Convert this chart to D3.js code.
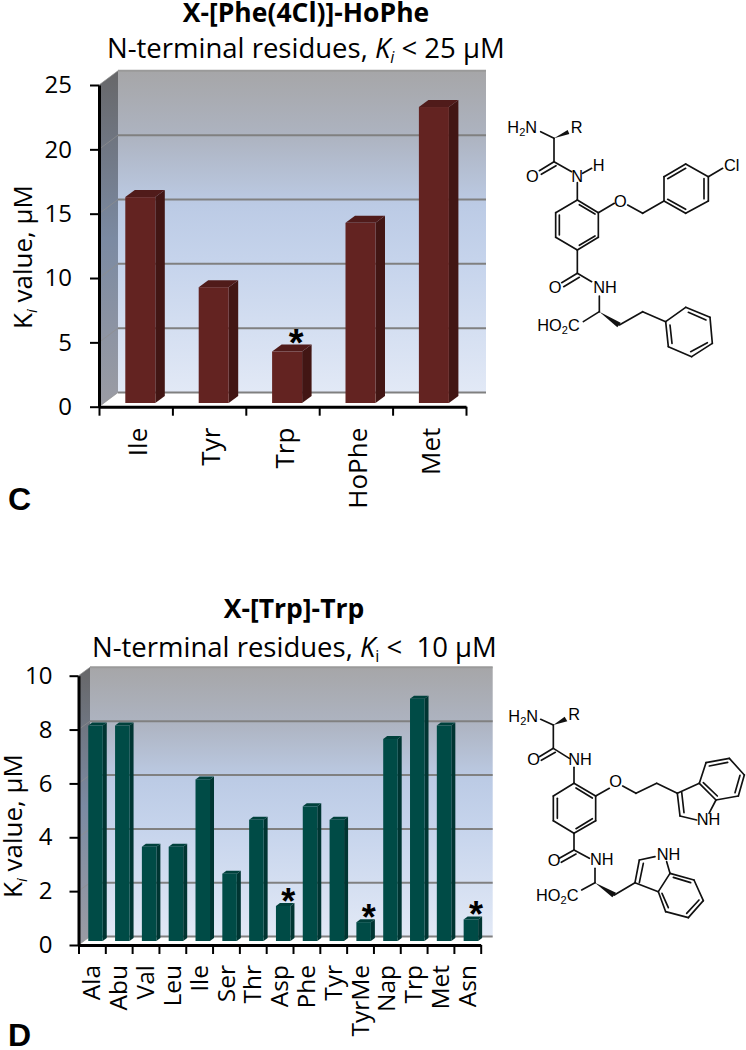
<!DOCTYPE html>
<html>
<head>
<meta charset="utf-8">
<script src="https://cdn.jsdelivr.net/npm/d3@7"></script>
<style>
  body { margin: 0; background: #fff; }
  text { font-family: "Open Sans", sans-serif; fill: #000; }
</style>
</head>
<body>
<div id="container"></div>
<script>
/* DATA */
const residuesC = ["Ile", "Tyr", "Trp", "HoPhe", "Met"];
const valuesC = [16, 9, 4, 14, 23];
const starredC = ["Trp"];
const ticksC = [0, 5, 10, 15, 20, 25];

const residuesD = ["Ala", "Abu", "Val", "Leu", "Ile", "Ser", "Thr", "Asp", "Phe", "Tyr", "TyrMe", "Nap", "Trp", "Met", "Asn"];
const valuesD = [8, 8, 3.5, 3.5, 6, 2.5, 4.5, 1.3, 5, 4.5, 0.7, 7.5, 9, 8, 0.8];
const starredD = ["Asp", "TyrMe", "Asn"];
const ticksD = [0, 2, 4, 6, 8, 10];

const svg = d3.select("#container").append("svg")
  .attr("width", 746)
  .attr("height", 1050);

/* GRADIENTS */
const defs = svg.append("defs");
function gradient(id, stops) {
  const g = defs.append("linearGradient").attr("id", id)
    .attr("x1", 0).attr("y1", 0).attr("x2", 0).attr("y2", 1);
  stops.forEach(s => g.append("stop").attr("offset", s[0]).attr("stop-color", s[1]));
}
gradient("wall", [[0, "#a6a6a8"], [0.2, "#adb3c0"], [0.42, "#bccbe5"], [0.6, "#c6d4ec"], [1, "#e2e9f6"]]);
gradient("side", [[0, "#676769"], [0.2, "#6f7580"], [0.5, "#7b8aa2"], [1, "#9b9ca4"]]);

/* one 3D column panel */
function drawPanel(p) {
  const y = d3.scaleLinear().domain(p.domain).range([p.y0, p.y1]);
  const x = d3.scaleBand().domain(p.residues).range([p.x0, p.x1]);
  const edges = d3.scaleLinear().domain([0, p.residues.length]).range([p.x0, p.x1]);
  const g = svg.append("g");

  // back wall, side wall, floor
  const wallL = p.x0 + p.dx, wallR = p.wallRight;
  const top = y(p.domain[1]) - p.dy, bottom = y(0) - p.dy;
  g.append("rect").attr("x", wallL).attr("y", top)
    .attr("width", wallR - wallL).attr("height", bottom - top)
    .attr("fill", "url(#wall)");
  g.append("path")
    .attr("d", `M${p.x0},${y(p.domain[1])}L${wallL},${top}L${wallL},${bottom}L${p.x0},${y(0)}Z`)
    .attr("fill", "url(#side)");

  // gridlines
  g.selectAll(".grid").data(p.ticks).join("line")
    .attr("class", "grid")
    .attr("x1", wallL).attr("x2", wallR)
    .attr("y1", d => y(d) - p.dy).attr("y2", d => y(d) - p.dy)
    .attr("stroke", d => d === p.domain[1] ? "#9a9a9a" : "#808080")
    .attr("stroke-width", 2);
  g.selectAll(".gridSide").data(p.ticks).join("line")
    .attr("class", "gridSide")
    .attr("x1", p.x0).attr("x2", wallL)
    .attr("y1", d => y(d)).attr("y2", d => y(d) - p.dy)
    .attr("stroke", "#8f8f8f")
    .attr("stroke-width", 1)
    .attr("opacity", 0.7);

  // columns
  const w = p.barWidth, d1 = p.barDepthX, d2 = p.barDepthY;
  const bx = r => x(r) + x.bandwidth() / 2 + p.barShift - w / 2;
  const by = v => y(v) - p.barLift;
  const bars = g.selectAll(".bar")
    .data(p.residues.map((r, i) => ({ r: r, v: p.values[i] })))
    .join("g").attr("class", "bar");
  bars.append("path")
    .attr("d", d => `M${bx(d.r) + w},${by(d.v)}l${d1},${-d2}V${by(0) - d2}l${-d1},${d2}Z`)
    .attr("fill", p.colors[2]);
  bars.append("path")
    .attr("d", d => `M${bx(d.r)},${by(d.v)}l${d1},${-d2}h${w}l${-d1},${d2}Z`)
    .attr("fill", p.colors[1]);
  bars.append("rect")
    .attr("x", d => bx(d.r)).attr("y", d => by(d.v))
    .attr("width", w).attr("height", d => by(0) - by(d.v))
    .attr("fill", p.colors[0]);

  // asterisks
  bars.filter(d => p.starred.includes(d.r)).append("text")
    .attr("x", d => bx(d.r) + w / 2 + p.starDx)
    .attr("y", d => by(d.v) + p.starDy)
    .attr("text-anchor", "middle")
    .style("font-family", "'Liberation Sans'")
    .style("font-weight", "bold")
    .style("font-size", p.starSize + "px")
    .text("*");

  // axes
  const yAxis = d3.axisLeft(y).tickValues(p.ticks).tickSize(p.tick).tickPadding(p.tickPad).tickSizeOuter(0);
  const yG = g.append("g").attr("transform", `translate(${p.x0},0)`).call(yAxis);
  const xTicks = d3.axisBottom(edges).ticks(p.residues.length).tickFormat("").tickSize(p.tick).tickSizeOuter(0);
  const xG = g.append("g").attr("transform", `translate(0,${p.y0})`).call(xTicks);
  [yG, xG].forEach(a => {
    a.selectAll("path,line").attr("stroke", "#000").attr("stroke-width", 2);
    a.select(".domain").attr("stroke-width", p.axisWidth);
  });
  yG.selectAll("text").style("font-family", "'Open Sans'").style("font-size", p.yFont + "px").attr("fill", "#000");

  // category labels
  const xAxis = d3.axisBottom(x).tickSize(0).tickSizeOuter(0);
  const lab = g.append("g").attr("transform", `translate(0,${p.y0})`).call(xAxis);
  lab.select(".domain").remove();
  lab.selectAll("text")
    .attr("transform", `translate(${p.labelDx},${p.labelTop}) rotate(-90)`)
    .attr("x", 0).attr("y", 0).attr("dy", "0.35em")
    .attr("text-anchor", "end")
    .style("font-family", "'Open Sans'")
    .style("font-size", p.xFont + "px");

  // y title
  const yt = g.append("text")
    .attr("transform", `translate(${p.yTitleX},${p.yTitleY}) rotate(-90)`)
    .attr("text-anchor", "middle")
    .style("font-size", p.yTitleFont + "px");
  yt.append("tspan").text("K");
  yt.append("tspan").attr("dy", 5).style("font-size", "15px").style("font-style", "italic").text("i");
  yt.append("tspan").attr("dy", -5).text(" value, µM");

  // titles
  g.append("text").attr("x", p.titleX).attr("y", p.titleY)
    .attr("text-anchor", "middle")
    .style("font-size", "26.5px").style("font-weight", "bold")
    .text(p.title);
  const st = g.append("text").attr("x", p.subX).attr("y", p.subY).style("font-size", p.subFont + "px");
  st.append("tspan").text("N-terminal residues, ");
  st.append("tspan").style("font-style", "italic").text("K");
  st.append("tspan").attr("dy", 5).style("font-size", "16px").style("font-style", p.subItalic ? "italic" : "normal").text("i");
  st.append("tspan").attr("dy", -5).attr("xml:space", "preserve").text(p.subEnd);

  // panel letter
  g.append("text").attr("x", p.letterX).attr("y", p.letterY)
    .style("font-family", "'Liberation Sans'").style("font-weight", "bold").style("font-size", "32px")
    .text(p.letter);
}

drawPanel({
  residues: residuesC, values: valuesC, starred: starredC, ticks: ticksC, domain: [0, 25],
  x0: 99, x1: 466, y0: 406.7, y1: 85, wallRight: 486, dx: 19, dy: 14.2,
  barWidth: 30, barDepthX: 9.5, barDepthY: 7, barShift: 4.6, barLift: 3.7,
  colors: ["#632321", "#501b1a", "#421614"],
  tick: 9, tickPad: 18, axisWidth: 3, yFont: 24, xFont: 26,
  labelDx: 2, labelTop: 21,
  starDx: 9, starDy: 4, starSize: 38,
  yTitleX: 32, yTitleY: 257, yTitleFont: 26,
  title: "X-[Phe(4Cl)]-HoPhe", titleX: 306, titleY: 22,
  subX: 107, subY: 58, subFont: 27.5, subItalic: true, subEnd: " < 25 µM",
  letter: "C", letterX: 8, letterY: 510
});

drawPanel({
  residues: residuesD, values: valuesD, starred: starredD, ticks: ticksD, domain: [0, 10],
  x0: 78.5, x1: 480.7, y0: 945, y1: 675.7, wallRight: 492.7, dx: 11.5, dy: 8.4,
  barWidth: 14.5, barDepthX: 4, barDepthY: 3, barShift: 3.6, barLift: 4,
  colors: ["#004b46", "#00413c", "#003532"],
  tick: 9, tickPad: 17, axisWidth: 3, yFont: 24, xFont: 24.5,
  labelDx: 0, labelTop: 20,
  starDx: 5, starDy: 8, starSize: 36,
  yTitleX: 22, yTitleY: 826, yTitleFont: 26,
  title: "X-[Trp]-Trp", titleX: 294, titleY: 618,
  subX: 92, subY: 657, subFont: 27.5, subItalic: false, subEnd: " <  10 µM",
  letter: "D", letterX: 8, letterY: 1046
});

/* chemical structures, traced in 3x crop units */
function drawStructure(ox, oy, bonds, wedges, labels) {
  const g = svg.append("g").attr("transform", `translate(${ox},${oy}) scale(${1 / 3})`);
  g.selectAll("line").data(bonds).join("line")
    .attr("x1", d => d[0]).attr("y1", d => d[1])
    .attr("x2", d => d[2]).attr("y2", d => d[3])
    .attr("stroke", "#111").attr("stroke-width", 5).attr("stroke-linecap", "round");
  g.selectAll("path").data(wedges).join("path")
    .attr("d", d => `M${d[0]},${d[1]}L${d[2]},${d[3]}L${d[4]},${d[5]}Z`)
    .attr("fill", "#111");
  const t = g.selectAll("text").data(labels).join("text")
    .attr("x", d => d[1]).attr("y", d => d[2])
    .style("font-family", "'Liberation Sans'")
    .style("font-size", "49px");
  t.each(function(d) {
    const parts = d[0].split("_");
    const el = d3.select(this);
    el.append("tspan").text(parts[0]);
    if (parts[1]) {
      el.append("tspan").attr("dy", 10).style("font-size", "33px").text(parts[1]);
      el.append("tspan").attr("dy", -10).text(parts[2]);
    }
  });
}

const bondsC = [
  [122,95,162,115],[162,115,162,185],[162,185,118,212],[168,197,124,223],[162,185,215,215],
  [248,220,275,205],[232,248,232,300],
  [232,300,295,338],[295,338,295,412],[295,412,232,450],[232,450,167,412],[167,412,167,338],[167,338,232,300],
  [178,345,178,405],[238,314,285,342],[238,436,285,408],
  [295,338,343,310],[383,315,428,340],[428,340,492,303],
  [492,303,492,230],[492,230,557,192],[557,192,625,230],[625,230,625,303],[625,303,557,340],[557,340,492,303],
  [503,236,557,205],[612,236,612,296],[503,298,557,328],[625,230,668,205],
  [232,450,232,520],[232,520,185,548],[238,532,191,560],[232,520,275,545],[298,588,298,635],[298,635,250,665],
  [358,675,428,635],[428,635,497,665],
  [497,665,557,622],[557,622,630,652],[630,652,637,730],[637,730,575,770],[575,770,505,740],[505,740,497,665],
  [565,637,618,660],[622,728,572,755],[516,730,510,675]
];
const wedgesC = [[162,115,203,90,208,102],[298,635,352,682,362,668]];
const labelsC = [
  ["H_2_N",22,98],["R",212,98],["O",78,246],["N",214,246],["H",278,212],["O",342,322],["Cl",672,212],
  ["O",146,578],["NH",280,580],["HO_2_C",112,692]
];
drawStructure(500, 100, bondsC, wedgesC, labelsC);

const bondsD = [
  [122,88,160,105],[160,105,160,175],[160,175,118,200],[166,187,124,211],[160,175,208,205],[222,232,222,280],
  [222,280,287,318],[287,318,287,392],[287,392,222,430],[222,430,160,392],[160,392,160,318],[160,318,222,280],
  [172,325,172,385],[228,294,277,324],[228,416,277,386],
  [287,318,328,295],[368,288,408,310],[408,310,470,280],[470,280,532,310],
  [532,310,540,378],[545,306,552,368],[540,378,590,390],[627,370,648,330],[532,310,598,280],[598,280,648,330],
  [598,280,618,218],[618,218,688,205],[688,205,733,255],[733,255,715,318],[715,318,648,330],
  [628,228,683,217],[720,256,705,308],[610,278,652,318],
  [222,430,222,480],[222,480,178,505],[228,492,184,517],[222,480,268,505],[285,535,285,578],[285,578,245,600],
  [343,615,405,578],[405,578,418,510],[418,578,430,520],[418,510,465,500],[500,515,510,550],
  [510,550,475,605],[475,605,405,578],[510,550,582,570],[582,570,610,632],[610,632,565,683],[565,683,497,665],[497,665,475,605],
  [520,562,572,578],[597,630,560,670],[505,653,486,610]
];
const wedgesD = [[160,105,194,80,202,94],[285,578,337,622,348,608]];
const labelsD = [
  ["H_2_N",25,95],["R",205,90],["O",82,226],["NH",205,226],["O",328,292],["NH",590,406],
  ["O",143,528],["NH",270,526],["NH",470,510],["HO_2_C",108,632]
];
drawStructure(500, 690, bondsD, wedgesD, labelsD);
</script>
</body>
</html>
